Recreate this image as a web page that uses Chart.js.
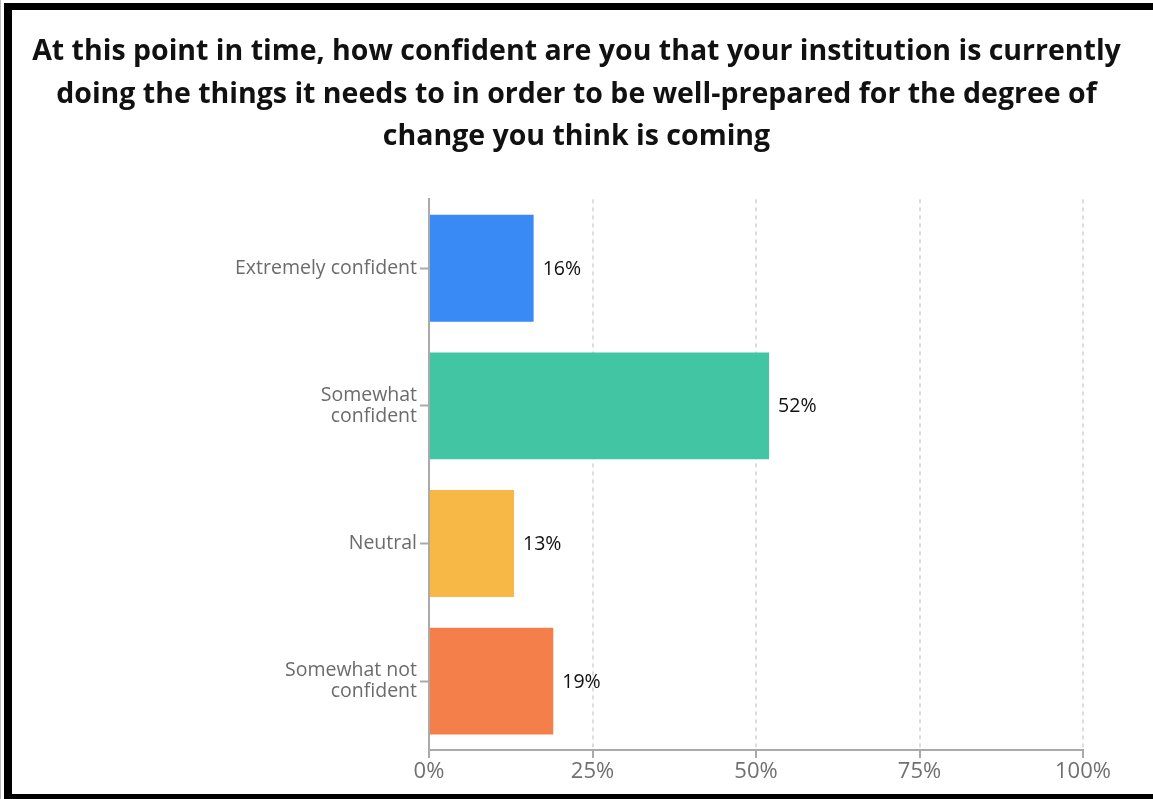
<!DOCTYPE html>
<html>
<head>
<meta charset="utf-8">
<script src="https://cdn.jsdelivr.net/npm/chart.js@4"></script>
<style>
  html, body { margin: 0; padding: 0; background: #fff; overflow: hidden; }
  #wrap { position: absolute; left: 0; top: 0; width: 1153px; height: 799px; }
  #frame { position: absolute; left: 4px; top: 3px; width: 1300px; height: 784px;
           border-left: 8px solid #000; border-top: 7px solid #000; border-bottom: 8px solid #000; pointer-events: none; }
  #edge { position: absolute; left: 0; top: 0; width: 1px; height: 799px; background: #bbb; }
  canvas { position: absolute; left: 0; top: 0; }
</style>
</head>
<body>
<div id="wrap">
  <canvas id="c" width="1153" height="799"></canvas>
  <div id="frame"></div>
  <div id="edge"></div>
</div>
<script>
const titleLines = [
  "At this point in time, how confident are you that your institution is currently",
  "doing the things it needs to in order to be well-prepared for the degree of",
  "change you think is coming"
];
const categories = [
  ["Extremely confident"],
  ["Somewhat", "confident"],
  ["Neutral"],
  ["Somewhat not", "confident"]
];
const values = [16, 52, 13, 19];
const barColors = ["#3A8AF6", "#42C5A2", "#F8B845", "#F47F4B"];
const xTicks = [0, 25, 50, 75, 100];

const FONT = "'Open Sans', 'Noto Sans', sans-serif";

const dataLabels = {
  id: 'dataLabels',
  afterDatasetsDraw(chart) {
    const ctx = chart.ctx;
    const meta = chart.getDatasetMeta(0);
    ctx.save();
    ctx.font = "19.5px " + FONT;
    ctx.fillStyle = "#111";
    ctx.textAlign = "left";
    ctx.textBaseline = "middle";
    meta.data.forEach((bar, i) => {
      ctx.fillText(values[i] + "%", bar.x + 9, bar.y + 1);
    });
    ctx.restore();
  }
};

new Chart(document.getElementById('c'), {
  type: 'bar',
  data: {
    labels: categories,
    datasets: [{
      data: values,
      backgroundColor: barColors,
      borderWidth: 0,
      barPercentage: 0.97,
      categoryPercentage: 0.8
    }]
  },
  options: {
    indexAxis: 'y',
    responsive: false,
    animation: false,
    layout: { padding: { left: 0, right: 0, top: 10, bottom: 0 } },
    plugins: {
      legend: { display: false },
      tooltip: { enabled: false },
      title: {
        display: true,
        text: titleLines,
        color: "#111",
        font: { family: FONT, size: 28.5, weight: 'bold', lineHeight: 1.49 },
        padding: { top: 21, bottom: 41 }
      }
    },
    scales: {
      x: {
        min: 0, max: 100,
        afterBuildTicks(scale) { scale.ticks = xTicks.map(v => ({ value: v })); },
        afterFit(scale) { scale.height = 49; },
        ticks: {
          color: "#707070",
          font: { family: FONT, size: 22 },
          padding: 1,
          callback: v => v + "%"
        },
        grid: {
          color: ctx => (ctx.tick && ctx.tick.value === 0) ? 'rgba(0,0,0,0)' : '#dcdcdc',
          lineWidth: 2,
          tickColor: '#aaa',
          tickLength: 8,
          tickWidth: 2
        },
        border: { color: '#aaa', width: 2, dash: [4, 4] }
      },
      y: {
        afterFit(scale) { scale.width = 429; },
        ticks: {
          color: "#6b6b6b",
          font: { family: FONT, size: 19.5, lineHeight: 1.08 },
          padding: 3
        },
        grid: {
          offset: false,
          drawOnChartArea: false,
          tickColor: '#aaa',
          tickLength: 9,
          tickWidth: 2
        },
        border: { color: '#aaa', width: 2 }
      },
      spacer: {
        type: 'linear',
        position: 'right',
        display: true,
        afterFit(scale) { scale.width = 70; },
        ticks: { display: false },
        grid: { display: false, drawTicks: false },
        border: { display: false }
      }
    }
  },
  plugins: [dataLabels]
});
</script>
</body>
</html>
